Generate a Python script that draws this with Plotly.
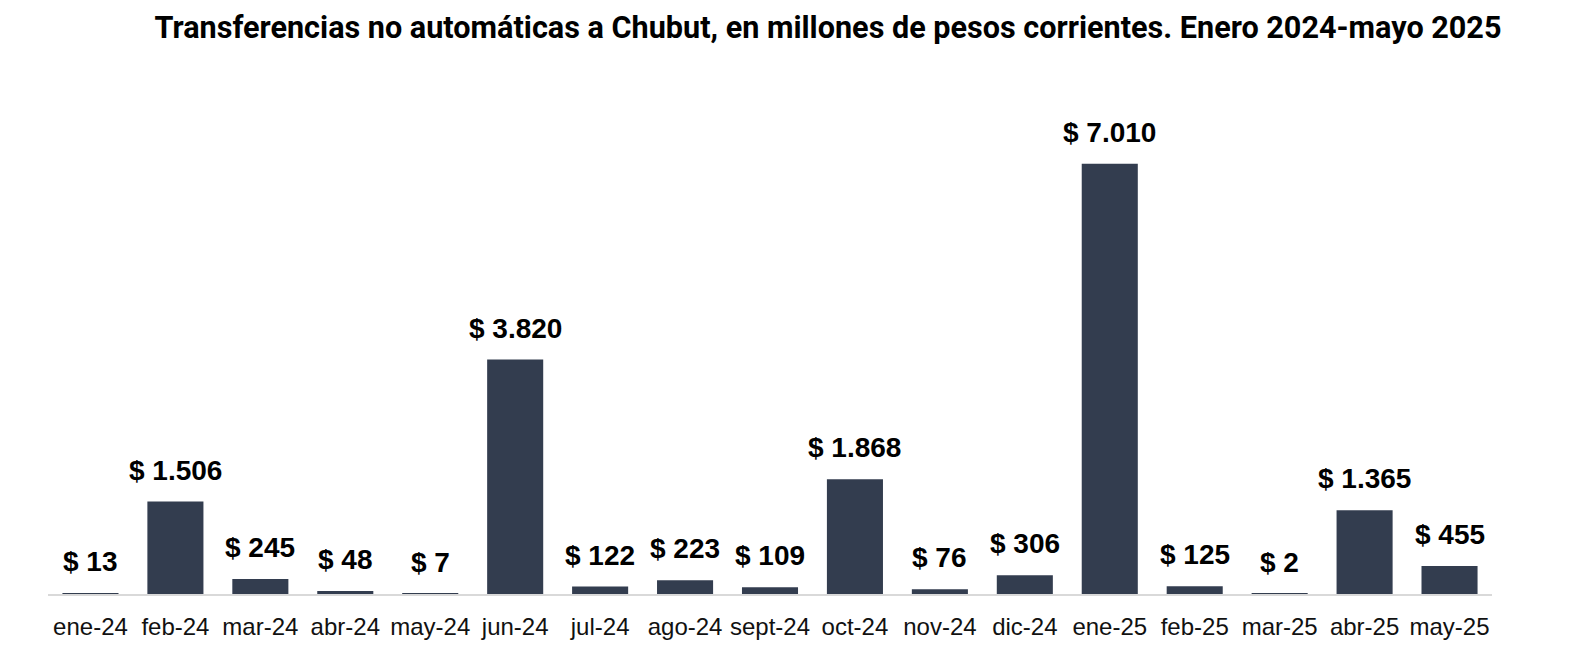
import plotly.graph_objects as go

# Datos: transferencias no automáticas a Chubut (millones de pesos corrientes)
months = ["ene-24", "feb-24", "mar-24", "abr-24", "may-24", "jun-24", "jul-24",
          "ago-24", "sept-24", "oct-24", "nov-24", "dic-24", "ene-25", "feb-25",
          "mar-25", "abr-25", "may-25"]
values = [13, 1506, 245, 48, 7, 3820, 122, 223, 109, 1868, 76, 306, 7010, 125,
          2, 1365, 455]

labels = ["$ " + f"{v:,}".replace(",", ".") for v in values]

fig = go.Figure()
fig.add_trace(go.Bar(
    x=months,
    y=values,
    marker=dict(color="#333d4f", line=dict(width=0)),
    hoverinfo="x+y",
))

# Etiquetas de valor sobre cada barra
for m, v, t in zip(months, values, labels):
    fig.add_annotation(
        x=m, y=v, text="<b>" + t + "</b>", showarrow=False,
        yanchor="bottom", yshift=14,
        font=dict(family="Liberation Sans", size=28, color="#000000"),
    )

# la página tiene 8px de margen, así que la figura es un poco más chica
fig.update_layout(
    width=1564, height=656,
    margin=dict(l=40, r=80, t=52, b=70),
    paper_bgcolor="white",
    plot_bgcolor="white",
    bargap=0.34,
    showlegend=False,
    title=dict(
        text="<b>Transferencias no automáticas a Chubut, en millones de pesos corrientes. Enero 2024-mayo 2025</b>",
        x=0.5243, xanchor="center", y=0.970, yanchor="middle",
        xref="container", yref="container",
        font=dict(family="Roboto", size=30.6, color="#000000"),
    ),
)
fig.update_xaxes(
    showline=True, linecolor="#d9d9d9", linewidth=2,
    ticks="outside", ticklen=10, tickcolor="rgba(0,0,0,0)",
    tickfont=dict(family="Liberation Sans", size=24, color="#111111"),
    showgrid=False,
)
fig.update_yaxes(visible=False, range=[0, 8700], showgrid=False, zeroline=False)

fig.write_html("out.html")
